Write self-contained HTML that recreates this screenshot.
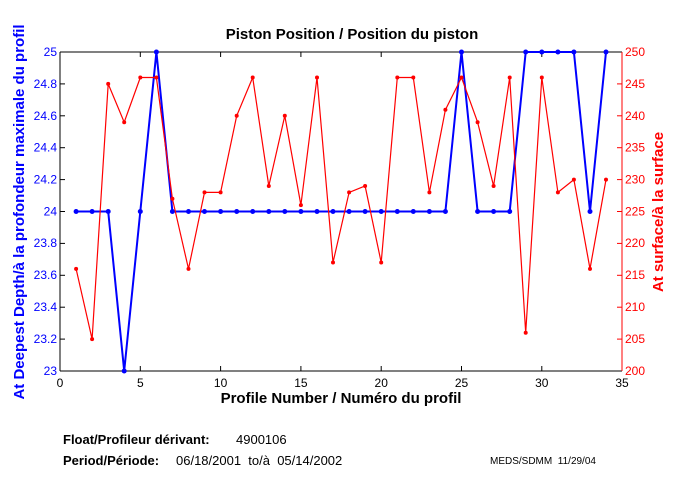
<!DOCTYPE html>
<html><head><meta charset="utf-8"><style>
html,body{margin:0;padding:0;background:#fff;}
svg{display:block;font-family:"Liberation Sans",Arial,sans-serif;}
text{white-space:pre;}
</style></head><body>
<svg width="680" height="500" viewBox="0 0 680 500" xmlns="http://www.w3.org/2000/svg">
<rect width="680" height="500" fill="#fff"/>
<text x="352" y="39" font-size="15" font-weight="bold" text-anchor="middle">Piston Position / Position du piston</text>
<line x1="60" y1="52" x2="622" y2="52" stroke="#000"/>
<line x1="60" y1="371" x2="622" y2="371" stroke="#000"/>
<line x1="60" y1="52" x2="60" y2="371" stroke="#000"/>
<line x1="622" y1="52" x2="622" y2="371" stroke="#f00"/>
<g stroke="#000">
<line x1="140.3" y1="371" x2="140.3" y2="366"/><line x1="140.3" y1="52" x2="140.3" y2="57"/>
<line x1="220.6" y1="371" x2="220.6" y2="366"/><line x1="220.6" y1="52" x2="220.6" y2="57"/>
<line x1="300.9" y1="371" x2="300.9" y2="366"/><line x1="300.9" y1="52" x2="300.9" y2="57"/>
<line x1="381.2" y1="371" x2="381.2" y2="366"/><line x1="381.2" y1="52" x2="381.2" y2="57"/>
<line x1="461.5" y1="371" x2="461.5" y2="366"/><line x1="461.5" y1="52" x2="461.5" y2="57"/>
<line x1="541.8" y1="371" x2="541.8" y2="366"/><line x1="541.8" y1="52" x2="541.8" y2="57"/>
</g>
<g font-size="12" text-anchor="middle">
<text x="60" y="387">0</text><text x="140.3" y="387">5</text><text x="220.6" y="387">10</text><text x="300.9" y="387">15</text><text x="381.2" y="387">20</text><text x="461.5" y="387">25</text><text x="541.8" y="387">30</text><text x="622" y="387">35</text>
</g>
<text x="341" y="403" font-size="15" font-weight="bold" text-anchor="middle">Profile Number / Numéro du profil</text>
<g stroke="#000">
<line x1="60" y1="339.1" x2="65" y2="339.1"/><line x1="60" y1="307.2" x2="65" y2="307.2"/><line x1="60" y1="275.3" x2="65" y2="275.3"/><line x1="60" y1="243.4" x2="65" y2="243.4"/><line x1="60" y1="211.5" x2="65" y2="211.5"/><line x1="60" y1="179.6" x2="65" y2="179.6"/><line x1="60" y1="147.7" x2="65" y2="147.7"/><line x1="60" y1="115.8" x2="65" y2="115.8"/><line x1="60" y1="83.9" x2="65" y2="83.9"/>
</g>
<g font-size="12" fill="#00f" text-anchor="end">
<text x="57" y="375">23</text><text x="57" y="343">23.2</text><text x="57" y="311">23.4</text><text x="57" y="279">23.6</text><text x="57" y="247">23.8</text><text x="57" y="215.5">24</text><text x="57" y="183.5">24.2</text><text x="57" y="151.5">24.4</text><text x="57" y="120">24.6</text><text x="57" y="88">24.8</text><text x="57" y="56">25</text>
</g>
<g stroke="#f00">
<line x1="622" y1="339.1" x2="617" y2="339.1"/><line x1="622" y1="307.2" x2="617" y2="307.2"/><line x1="622" y1="275.3" x2="617" y2="275.3"/><line x1="622" y1="243.4" x2="617" y2="243.4"/><line x1="622" y1="211.5" x2="617" y2="211.5"/><line x1="622" y1="179.6" x2="617" y2="179.6"/><line x1="622" y1="147.7" x2="617" y2="147.7"/><line x1="622" y1="115.8" x2="617" y2="115.8"/><line x1="622" y1="83.9" x2="617" y2="83.9"/>
</g>
<g font-size="12" fill="#f00">
<text x="625" y="375">200</text><text x="625" y="343">205</text><text x="625" y="311">210</text><text x="625" y="279">215</text><text x="625" y="247">220</text><text x="625" y="215.5">225</text><text x="625" y="183.5">230</text><text x="625" y="151.5">235</text><text x="625" y="120">240</text><text x="625" y="88">245</text><text x="625" y="56">250</text>
</g>
<text transform="translate(24,212) rotate(-90)" font-size="15" font-weight="bold" fill="#00f" text-anchor="middle">At Deepest Depth/à la profondeur maximale du profil</text>
<text transform="translate(663,212) rotate(-90)" font-size="15" font-weight="bold" fill="#f00" text-anchor="middle">At surface/à la surface</text>
<polyline fill="none" stroke="#00f" stroke-width="2" points="76.1,211.5 92.1,211.5 108.2,211.5 124.2,371 140.3,211.5 156.4,52 172.4,211.5 188.5,211.5 204.5,211.5 220.6,211.5 236.7,211.5 252.7,211.5 268.8,211.5 284.8,211.5 300.9,211.5 317,211.5 333,211.5 349.1,211.5 365.1,211.5 381.2,211.5 397.3,211.5 413.3,211.5 429.4,211.5 445.4,211.5 461.5,52 477.6,211.5 493.6,211.5 509.7,211.5 525.7,52 541.8,52 557.9,52 573.9,52 590,211.5 606,52"/>
<g fill="#00f">
<circle cx="76.1" cy="211.5" r="2.5"/><circle cx="92.1" cy="211.5" r="2.5"/><circle cx="108.2" cy="211.5" r="2.5"/><circle cx="124.2" cy="371" r="2.5"/><circle cx="140.3" cy="211.5" r="2.5"/><circle cx="156.4" cy="52" r="2.5"/><circle cx="172.4" cy="211.5" r="2.5"/><circle cx="188.5" cy="211.5" r="2.5"/><circle cx="204.5" cy="211.5" r="2.5"/><circle cx="220.6" cy="211.5" r="2.5"/><circle cx="236.7" cy="211.5" r="2.5"/><circle cx="252.7" cy="211.5" r="2.5"/><circle cx="268.8" cy="211.5" r="2.5"/><circle cx="284.8" cy="211.5" r="2.5"/><circle cx="300.9" cy="211.5" r="2.5"/><circle cx="317" cy="211.5" r="2.5"/><circle cx="333" cy="211.5" r="2.5"/><circle cx="349.1" cy="211.5" r="2.5"/><circle cx="365.1" cy="211.5" r="2.5"/><circle cx="381.2" cy="211.5" r="2.5"/><circle cx="397.3" cy="211.5" r="2.5"/><circle cx="413.3" cy="211.5" r="2.5"/><circle cx="429.4" cy="211.5" r="2.5"/><circle cx="445.4" cy="211.5" r="2.5"/><circle cx="461.5" cy="52" r="2.5"/><circle cx="477.6" cy="211.5" r="2.5"/><circle cx="493.6" cy="211.5" r="2.5"/><circle cx="509.7" cy="211.5" r="2.5"/><circle cx="525.7" cy="52" r="2.5"/><circle cx="541.8" cy="52" r="2.5"/><circle cx="557.9" cy="52" r="2.5"/><circle cx="573.9" cy="52" r="2.5"/><circle cx="590" cy="211.5" r="2.5"/><circle cx="606" cy="52" r="2.5"/>
</g>
<polyline fill="none" stroke="#f00" stroke-width="1.2" points="76.1,268.9 92.1,339.1 108.2,83.9 124.2,122.2 140.3,77.5 156.4,77.5 172.4,198.7 188.5,268.9 204.5,192.4 220.6,192.4 236.7,115.8 252.7,77.5 268.8,186 284.8,115.8 300.9,205.1 317,77.5 333,262.5 349.1,192.4 365.1,186 381.2,262.5 397.3,77.5 413.3,77.5 429.4,192.4 445.4,109.8 461.5,77.5 477.6,122.2 493.6,186 509.7,77.5 525.7,332.7 541.8,77.5 557.9,192.4 573.9,179.6 590,268.9 606,179.6"/>
<g fill="#f00">
<circle cx="76.1" cy="268.9" r="2"/><circle cx="92.1" cy="339.1" r="2"/><circle cx="108.2" cy="83.9" r="2"/><circle cx="124.2" cy="122.2" r="2"/><circle cx="140.3" cy="77.5" r="2"/><circle cx="156.4" cy="77.5" r="2"/><circle cx="172.4" cy="198.7" r="2"/><circle cx="188.5" cy="268.9" r="2"/><circle cx="204.5" cy="192.4" r="2"/><circle cx="220.6" cy="192.4" r="2"/><circle cx="236.7" cy="115.8" r="2"/><circle cx="252.7" cy="77.5" r="2"/><circle cx="268.8" cy="186" r="2"/><circle cx="284.8" cy="115.8" r="2"/><circle cx="300.9" cy="205.1" r="2"/><circle cx="317" cy="77.5" r="2"/><circle cx="333" cy="262.5" r="2"/><circle cx="349.1" cy="192.4" r="2"/><circle cx="365.1" cy="186" r="2"/><circle cx="381.2" cy="262.5" r="2"/><circle cx="397.3" cy="77.5" r="2"/><circle cx="413.3" cy="77.5" r="2"/><circle cx="429.4" cy="192.4" r="2"/><circle cx="445.4" cy="109.8" r="2"/><circle cx="461.5" cy="77.5" r="2"/><circle cx="477.6" cy="122.2" r="2"/><circle cx="493.6" cy="186" r="2"/><circle cx="509.7" cy="77.5" r="2"/><circle cx="525.7" cy="332.7" r="2"/><circle cx="541.8" cy="77.5" r="2"/><circle cx="557.9" cy="192.4" r="2"/><circle cx="573.9" cy="179.6" r="2"/><circle cx="590" cy="268.9" r="2"/><circle cx="606" cy="179.6" r="2"/>
</g>
<text x="63" y="444" font-size="13" font-weight="bold">Float/Profileur dérivant:</text>
<text x="236" y="444" font-size="13">4900106</text>
<text x="63" y="465" font-size="13" font-weight="bold">Period/Période:</text>
<text x="176" y="465" font-size="13">06/18/2001  to/à  05/14/2002</text>
<text x="490" y="464" font-size="10">MEDS/SDMM  11/29/04</text>
</svg>
</body></html>
